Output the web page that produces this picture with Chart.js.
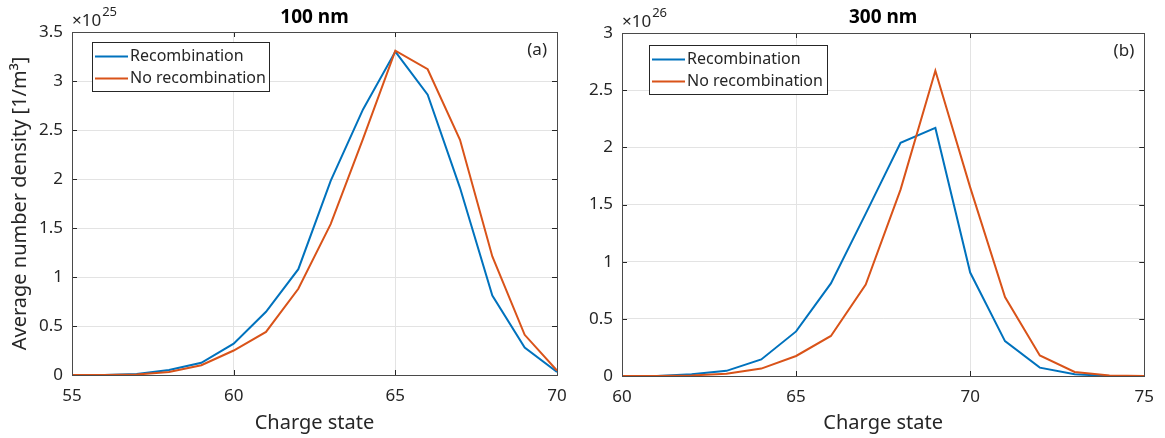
<!DOCTYPE html>
<html>
<head>
<meta charset="utf-8">
<script src="https://cdn.jsdelivr.net/npm/chart.js@4.4.1/dist/chart.umd.min.js"></script>
<style>
  body { margin: 0; background: #fff; }
  #wrap { position: relative; width: 1165px; height: 438px; }
  .box { position: absolute; top: 0; height: 438px; }
</style>
</head>
<body>
<div id="wrap">
  <div class="box" style="left:0;width:580px"><canvas id="chart100"></canvas></div>
  <div class="box" style="left:580px;width:585px"><canvas id="chart300"></canvas></div>
</div>
<script>
// 100 nm panel, values in units of 1e25 m^-3
const charge100 = [55, 56, 57, 58, 59, 60, 61, 62, 63, 64, 65, 66, 67, 68, 69, 70];
const recomb100 = [0, 0, 0.01, 0.05, 0.125, 0.32, 0.645, 1.08, 1.98, 2.71, 3.3, 2.86, 1.91, 0.81, 0.28, 0.03];
const noRecomb100 = [0, 0, 0.005, 0.03, 0.1, 0.25, 0.44, 0.88, 1.54, 2.41, 3.31, 3.12, 2.4, 1.21, 0.41, 0.045];
const yTicks100 = [0, 0.5, 1, 1.5, 2, 2.5, 3, 3.5];

// 300 nm panel, values in units of 1e26 m^-3
const charge300 = [60, 61, 62, 63, 64, 65, 66, 67, 68, 69, 70, 71, 72, 73, 74, 75];
const recomb300 = [0, 0, 0.015, 0.045, 0.145, 0.39, 0.81, 1.42, 2.04, 2.17, 0.905, 0.305, 0.073, 0.015, 0, 0];
const noRecomb300 = [0, 0, 0.005, 0.02, 0.065, 0.175, 0.35, 0.8, 1.63, 2.67, 1.65, 0.69, 0.18, 0.035, 0.005, 0];
const yTicks300 = [0, 0.5, 1, 1.5, 2, 2.5, 3];

const seriesNames = ['Recombination', 'No recombination'];
const BLUE = '#0072BD';
const RED = '#D95319';
const INK = '#262626';
const FONT = "'Noto Sans', 'Open Sans', sans-serif";

function toPoints(xs, ys) {
  return xs.map((x, i) => ({ x: x, y: ys[i] }));
}

// MATLAB-like axes decorations: box, inward ticks, title, exponent, legend
const matlabAxes = {
  id: 'matlabAxes',
  afterDraw(chart, args, opts) {
    const ctx = chart.ctx;
    const a = chart.chartArea;
    const xs = chart.scales.x;
    const ys = chart.scales.y;
    ctx.save();

    // inward ticks on all four sides
    ctx.strokeStyle = INK;
    ctx.lineWidth = 1;
    const tl = 5;
    xs.ticks.forEach(t => {
      const px = Math.round(xs.getPixelForValue(t.value)) + 0.5;
      ctx.beginPath();
      ctx.moveTo(px, a.bottom); ctx.lineTo(px, a.bottom - tl);
      ctx.moveTo(px, a.top); ctx.lineTo(px, a.top + tl);
      ctx.stroke();
    });
    ys.ticks.forEach(t => {
      const py = Math.round(ys.getPixelForValue(t.value)) + 0.5;
      ctx.beginPath();
      ctx.moveTo(a.left, py); ctx.lineTo(a.left + tl, py);
      ctx.moveTo(a.right, py); ctx.lineTo(a.right - tl, py);
      ctx.stroke();
    });

    // box
    ctx.strokeStyle = '#4a4a4a';
    ctx.strokeRect(Math.round(a.left) + 0.5, Math.round(a.top) + 0.5,
      Math.round(a.right - a.left), Math.round(a.bottom - a.top));

    // title
    ctx.fillStyle = '#000';
    ctx.font = 'bold 19px ' + FONT;
    ctx.textAlign = 'center';
    ctx.textBaseline = 'middle';
    ctx.fillText(opts.title, (a.left + a.right) / 2, 18);

    // exponent label
    ctx.fillStyle = INK;
    ctx.textAlign = 'left';
    ctx.textBaseline = 'alphabetic';
    ctx.font = '17px ' + FONT;
    ctx.fillText('\u00d710', a.left, a.top - 6);
    const w = ctx.measureText('\u00d710').width;
    ctx.font = '13px ' + FONT;
    ctx.fillText(opts.exponent, a.left + w + 1, a.top - 16);

    // panel label
    ctx.font = '17px ' + FONT;
    ctx.textAlign = 'right';
    ctx.textBaseline = 'middle';
    ctx.fillText(opts.panel, a.right - 10, a.top + 18);

    // legend
    const lx = a.left + opts.legendX, ly = a.top + opts.legendY;
    const lw = opts.legendW, lh = 49;
    ctx.fillStyle = '#fff';
    ctx.fillRect(lx, ly, lw, lh);
    ctx.strokeStyle = INK;
    ctx.strokeRect(Math.round(lx) + 0.5, Math.round(ly) + 0.5, lw, lh);
    chart.data.datasets.forEach((ds, i) => {
      const ry = Math.round(ly + 14 + i * 22) + 0.5;
      ctx.strokeStyle = ds.borderColor;
      ctx.lineWidth = 2;
      ctx.beginPath();
      ctx.moveTo(lx + 3, ry);
      ctx.lineTo(lx + 36, ry);
      ctx.stroke();
      ctx.fillStyle = INK;
      ctx.textAlign = 'left';
      ctx.font = '16px ' + FONT;
      ctx.fillText(ds.label, lx + 38, ry);
    });
    ctx.restore();
  }
};

function makeChart(id, xs, blue, red, yTicks, cfg) {
  const xMin = xs[0], xMax = xs[xs.length - 1];
  return new Chart(document.getElementById(id), {
    type: 'line',
    data: {
      datasets: [
        { label: seriesNames[0], data: toPoints(xs, blue), borderColor: BLUE, borderWidth: 2, pointRadius: 0, order: 1 },
        { label: seriesNames[1], data: toPoints(xs, red), borderColor: RED, borderWidth: 2, pointRadius: 0, order: 0 }
      ]
    },
    options: {
      responsive: true,
      maintainAspectRatio: false,
      animation: false,
      layout: { padding: { left: 0, top: cfg.top, right: cfg.right, bottom: 0 } },
      plugins: {
        legend: { display: false },
        tooltip: { enabled: false },
        matlabAxes: cfg.deco
      },
      scales: {
        x: {
          type: 'linear',
          min: xMin,
          max: xMax,
          ticks: { stepSize: 5, color: INK, font: { family: FONT, size: 17 }, padding: 11, maxRotation: 0 },
          grid: { color: '#e3e3e3', drawTicks: false },
          border: { display: false },
          title: { display: true, text: 'Charge state', color: INK, font: { family: FONT, size: 20 }, padding: { top: 2, bottom: 3 } },
          afterFit(scale) { scale.height = cfg.xAxisH; }
        },
        y: {
          min: yTicks[0],
          max: yTicks[yTicks.length - 1],
          afterBuildTicks(scale) { scale.ticks = yTicks.map(v => ({ value: v })); },
          ticks: { color: INK, font: { family: FONT, size: 17 }, padding: 9, callback: v => String(v) },
          grid: { color: '#e3e3e3', drawTicks: false },
          border: { display: false },
          title: { display: cfg.yTitle, text: 'Average number density [1/m\u00b3]', color: INK, font: { family: FONT, size: 20 }, padding: { top: 8, bottom: 2 } },
          afterFit(scale) { scale.width = cfg.yAxisW; }
        }
      }
    },
    plugins: [matlabAxes]
  });
}

makeChart('chart100', charge100, recomb100, noRecomb100, yTicks100, {
  top: 32, right: 23, xAxisH: 63, yAxisW: 72, yTitle: true,
  deco: { title: '100 nm', exponent: '25', panel: '(a)', legendX: 20, legendY: 10, legendW: 177 }
});
makeChart('chart300', charge300, recomb300, noRecomb300, yTicks300, {
  top: 33, right: 15, xAxisH: 62, yAxisW: 42, yTitle: false,
  deco: { title: '300 nm', exponent: '26', panel: '(b)', legendX: 27, legendY: 12, legendW: 178 }
});
</script>
</body>
</html>
